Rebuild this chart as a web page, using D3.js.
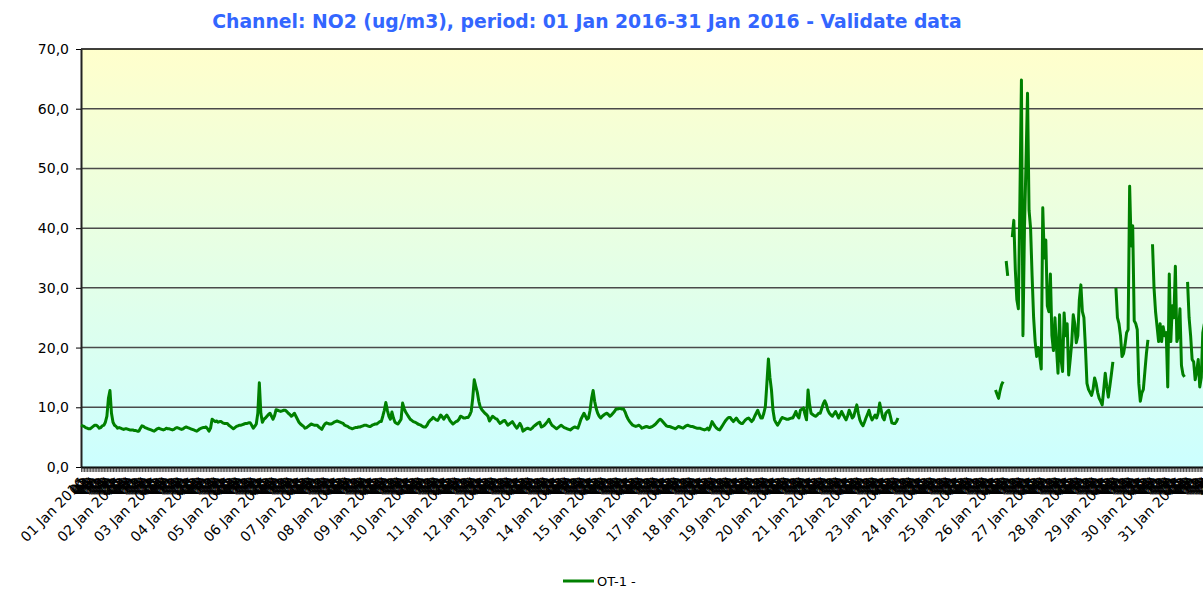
<!DOCTYPE html>
<html>
<head>
<meta charset="utf-8">
<script src="https://cdn.jsdelivr.net/npm/d3@7/dist/d3.min.js"></script>
<style>
    html, body { margin: 0; padding: 0; overflow: hidden; background: #fff; }
    svg { display: block; }
</style>
</head>
<body>
<div class="chart-container"></div>
<script>
(function () {
    'use strict';

    var title = 'Channel: NO2 (ug/m3), period: 01 Jan 2016-31 Jan 2016 - Validate data';
    var seriesName = 'OT-1 -';

    var dayLabels = ['01 Jan 2016', '02 Jan 2016', '03 Jan 2016', '04 Jan 2016', '05 Jan 2016',
        '06 Jan 2016', '07 Jan 2016', '08 Jan 2016', '09 Jan 2016', '10 Jan 2016', '11 Jan 2016',
        '12 Jan 2016', '13 Jan 2016', '14 Jan 2016', '15 Jan 2016', '16 Jan 2016', '17 Jan 2016',
        '18 Jan 2016', '19 Jan 2016', '20 Jan 2016', '21 Jan 2016', '22 Jan 2016', '23 Jan 2016',
        '24 Jan 2016', '25 Jan 2016', '26 Jan 2016', '27 Jan 2016', '28 Jan 2016', '29 Jan 2016',
        '30 Jan 2016', '31 Jan 2016'];

    var hourLabels = ['00', '01', '02', '03', '04', '05', '06', '07', '08', '09', '10', '11',
        '12', '13', '14', '15', '16', '17', '18', '19', '20', '21', '22', '23'];

    var yTicks = [0, 10, 20, 30, 40, 50, 60, 70];

    // hourly NO2 values, one row per day
    var no2Week1 = [
        7.0, 6.9, 6.8, 6.6, 6.5, 6.4, 6.4, 6.6, 6.8, 7.0, 7.0, 6.8, 6.5, 6.6, 6.9, 7.0, 7.5, 8.5, 11.5, 12.8, 9.0, 7.5, 7.0, 6.8,
        6.5, 6.6, 6.5, 6.4, 6.3, 6.4, 6.4, 6.3, 6.2, 6.2, 6.2, 6.1, 6.1, 6.0, 6.0, 6.5, 6.9, 6.8, 6.6, 6.5, 6.4, 6.3, 6.2, 6.1,
        6.0, 6.2, 6.4, 6.5, 6.4, 6.3, 6.2, 6.3, 6.5, 6.4, 6.4, 6.3, 6.2, 6.3, 6.5, 6.6, 6.5, 6.4, 6.3, 6.4, 6.6, 6.7, 6.6, 6.5,
        6.4, 6.3, 6.2, 6.1, 6.0, 6.2, 6.4, 6.5, 6.6, 6.6, 6.7, 6.4, 6.0, 6.5, 8.0, 7.8, 7.6, 7.7, 7.5, 7.6, 7.6, 7.4, 7.3, 7.3,
        7.3, 7.0, 6.8, 6.6, 6.4, 6.6, 6.8, 6.9, 7.0, 7.0, 7.1, 7.2, 7.3, 7.3, 7.4, 7.4, 7.0, 6.5, 6.8, 7.2, 9.0, 14.1, 9.0, 7.5,
        8.0, 8.2, 8.5, 8.8, 9.0, 8.5, 8.0, 8.6, 9.6, 9.5, 9.4, 9.3, 9.4, 9.5, 9.5, 9.3, 9.0, 8.8, 8.5, 8.7, 9.0, 8.5, 8.0, 7.5,
        7.2, 7.0, 6.8, 6.5, 6.6, 6.8, 7.0, 7.2, 7.1, 7.0, 7.0, 7.0, 6.7, 6.5, 6.3, 6.8, 7.2, 7.4, 7.3, 7.2, 7.2, 7.3, 7.5, 7.6
    ];
    var no2Week2 = [
        7.7, 7.6, 7.5, 7.4, 7.3, 7.0, 6.9, 6.8, 6.6, 6.5, 6.4, 6.5, 6.6, 6.6, 6.7, 6.7, 6.8, 6.9, 7.0, 7.0, 6.9, 6.8, 6.8, 7.0,
        7.1, 7.2, 7.2, 7.4, 7.6, 7.6, 8.5, 9.5, 10.8, 9.5, 8.5, 8.0, 9.2, 8.2, 7.5, 7.3, 7.2, 7.6, 8.0, 10.7, 9.8, 9.2, 8.8, 8.4,
        8.0, 7.8, 7.6, 7.5, 7.4, 7.2, 7.1, 7.0, 6.8, 6.7, 6.7, 7.0, 7.5, 7.8, 8.0, 8.3, 8.1, 7.9, 7.8, 8.2, 8.7, 8.4, 8.0, 8.4,
        8.7, 8.3, 7.8, 7.5, 7.2, 7.4, 7.6, 7.7, 8.0, 8.5, 8.4, 8.2, 8.2, 8.3, 8.3, 8.7, 9.3, 11.5, 14.6, 13.5, 12.5, 11.0, 10.0, 9.6,
        9.3, 9.0, 8.8, 8.5, 7.7, 8.1, 8.5, 8.3, 8.1, 8.0, 7.6, 7.3, 7.5, 7.7, 7.8, 7.4, 7.0, 7.2, 7.4, 7.6, 7.2, 6.8, 6.5, 6.9,
        7.3, 6.8, 6.0, 6.2, 6.4, 6.5, 6.4, 6.3, 6.5, 6.8, 7.0, 7.2, 7.4, 7.5, 6.7, 6.8, 7.0, 7.3, 7.6, 8.0, 7.4, 7.0, 6.8, 6.6,
        6.4, 6.6, 6.8, 7.0, 6.8, 6.6, 6.5, 6.4, 6.3, 6.2, 6.4, 6.6, 6.7, 6.6, 6.5, 7.2, 8.0, 8.5, 9.0, 8.5, 8.0, 8.2, 9.5, 11.5
    ];
    var no2Week3 = [
        12.8, 11.0, 9.8, 9.0, 8.5, 8.2, 8.5, 8.7, 8.9, 9.0, 8.8, 8.5, 8.7, 9.0, 9.3, 9.7, 9.7, 9.8, 9.8, 9.7, 9.7, 9.2, 8.5, 8.0,
        7.6, 7.3, 7.0, 6.9, 6.8, 6.9, 7.0, 6.8, 6.5, 6.6, 6.7, 6.8, 6.7, 6.6, 6.7, 6.8, 7.0, 7.2, 7.5, 7.8, 8.0, 7.8, 7.5, 7.2,
        6.9, 6.8, 6.8, 6.7, 6.6, 6.5, 6.4, 6.6, 6.8, 6.7, 6.6, 6.5, 6.7, 6.9, 7.0, 6.9, 6.8, 6.8, 6.7, 6.6, 6.5, 6.5, 6.5, 6.4,
        6.3, 6.2, 6.3, 6.5, 6.2, 6.8, 7.6, 7.2, 6.8, 6.5, 6.3, 6.2, 6.6, 7.0, 7.4, 7.8, 8.1, 8.3, 8.3, 7.9, 7.6, 7.9, 8.2, 7.8,
        7.5, 7.3, 7.3, 7.6, 7.9, 8.1, 8.2, 7.9, 7.6, 7.9, 8.5, 9.0, 9.5, 8.8, 8.2, 8.2, 9.0, 10.1, 14.0, 18.1, 15.0, 12.9, 9.5, 7.9,
        7.4, 7.0, 7.4, 7.9, 8.3, 8.2, 8.1, 8.0, 8.0, 8.1, 8.2, 8.2, 8.7, 9.3, 8.6, 8.2, 9.5, 9.7, 9.9, 8.8, 7.9, 12.9, 10.5, 9.0,
        8.8, 8.6, 8.5, 8.7, 9.0, 9.0, 9.8, 10.6, 11.1, 10.5, 9.5, 9.0, 8.7, 8.5, 8.9, 9.3, 8.8, 8.2, 8.7, 9.3, 8.8, 8.3, 7.9, 8.6
    ];
    var no2Week4 = [
        9.5, 8.9, 8.2, 8.5, 9.5, 10.4, 9.0, 7.9, 7.3, 6.9, 7.5, 8.2, 8.8, 9.5, 8.5, 7.9, 8.3, 8.7, 8.2, 9.0, 10.7, 9.5, 8.3, 7.9,
        9.0, 9.3, 9.5, 8.5, 7.4, 7.3, 7.3, 7.6, 8.2, null, null, null, null, null, null, null, null, null, null, null, null, null, null, null,
        null, null, null, null, null, null, null, null, null, null, null, null, null, null, null, null, null, null, null, null, null, null, null, null,
        null, null, null, null, null, null, null, null, null, null, null, null, null, null, null, null, null, null, null, null, null, null, null, null,
        12.9, 12.2, 11.5, 12.8, 13.8, 14.3, null, 34.5, 32.0, null, null, 38.5, 41.3, 33.0, 28.0, 26.5, 45.0, 64.8, 22.0, 40.0, 51.0, 62.6, 43.0, 40.0,
        32.0, 25.0, 21.0, 18.5, 20.0, 18.5, 16.4, 43.4, 35.0, 38.0, 27.0, 26.0, 32.3, 22.0, 19.5, 25.0, 20.0, 15.7, 25.5, 18.0, 16.0, 25.8, 22.0, 24.0,
        15.4, 18.0, 20.8, 25.5, 24.0, 20.8, 22.0, 28.0, 30.5, 26.0, 25.0, 20.0, 14.0, 13.0, 12.5, 12.0, 13.0, 14.9, 14.0, 12.5, 11.5, 11.0, 10.4, 13.0
    ];
    var no2Week5 = [
        15.7, 13.5, 11.7, 13.5, 15.5, 17.6, null, 30.0, 25.0, 24.0, 22.0, 18.5, 19.0, 20.5, 22.5, 23.0, 47.0, 37.0, 40.4, 24.5, 24.0, 23.0, 14.0, 11.0,
        12.4, 13.0, 16.0, 19.0, 21.3, null, null, 37.3, 30.0, 26.0, 23.5, 21.0, 24.0, 21.0, 23.5, 22.0, 22.5, 13.4, 32.3, 21.0, 27.0, 25.0, 33.6, 21.0,
        22.0, 26.5, 17.0, 15.5, 15.1, null, 31.0, 25.0, 22.0, 18.0, 17.6, 14.6, 16.0, 18.0, 13.4, 15.0, 22.5, 24.0, null, null, null, null, null, null
    ];

    var values = [].concat(no2Week1, no2Week2, no2Week3, no2Week4, no2Week5);
    var hours = d3.range(dayLabels.length * 24);

    var width = 1203, height = 589;
    var plot = { left: 81, top: 49, right: 1215, bottom: 467 };
    var font = 'Verdana, "DejaVu Sans", sans-serif';

    var svg = d3.select('.chart-container')
        .append('svg')
            .attr('width', width)
            .attr('height', height);

    var x = d3.scaleLinear()
        .domain([0, hours.length])
        .range([plot.left, plot.right]);

    var y = d3.scaleLinear()
        .domain([0, 70])
        .range([plot.bottom, plot.top]);

    // background gradient of the plot area
    var grad = svg.append('defs').append('linearGradient')
        .attr('id', 'plotBg')
        .attr('x1', 0).attr('y1', 0)
        .attr('x2', 0).attr('y2', 1);
    grad.append('stop').attr('offset', '0%').attr('stop-color', '#ffffcc');
    grad.append('stop').attr('offset', '100%').attr('stop-color', '#ccffff');

    svg.append('rect')
        .attr('x', plot.left)
        .attr('y', plot.top)
        .attr('width', plot.right - plot.left)
        .attr('height', plot.bottom - plot.top)
        .attr('fill', 'url(#plotBg)');

    // horizontal grid
    svg.append('g')
        .selectAll('line')
        .data(yTicks.slice(1))
        .enter().append('line')
            .attr('x1', plot.left)
            .attr('x2', plot.right)
            .attr('y1', function (d) { return y(d); })
            .attr('y2', function (d) { return y(d); })
            .attr('stroke', function (d) { return d === 70 ? '#000' : '#4a4a4a'; })
            .attr('stroke-width', 1.5);

    // y axis
    var yAxis = svg.append('g')
        .attr('transform', 'translate(' + plot.left + ',0)')
        .call(d3.axisLeft(y)
            .tickValues(yTicks)
            .tickSize(5)
            .tickSizeOuter(0)
            .tickFormat(function (d) { return d.toFixed(1).replace('.', ','); }));
    yAxis.select('.domain').attr('stroke', '#222').attr('stroke-width', 2);
    yAxis.selectAll('.tick line').attr('stroke', '#000');
    yAxis.selectAll('text')
        .attr('x', -12)
        .attr('fill', '#000')
        .style('font-family', font)
        .style('font-size', '14px');

    // x axis, one tick per hour; labels slanted 45 degrees
    var xAxis = svg.append('g')
        .attr('transform', 'translate(0,' + plot.bottom + ')')
        .call(d3.axisBottom(x)
            .tickValues(hours)
            .tickSize(5)
            .tickSizeOuter(0)
            .tickFormat(function (i) {
                return i % 24 === 0 ? dayLabels[i / 24] : hourLabels[i % 24];
            }));
    xAxis.select('.domain').attr('stroke', '#000').attr('stroke-width', 2);
    xAxis.selectAll('.tick line').attr('stroke', '#222').attr('stroke-width', 0.8);
    xAxis.selectAll('.tick text')
        .attr('x', 0)
        .attr('y', 0)
        .attr('dy', '0.35em')
        .attr('text-anchor', 'end')
        .attr('transform', 'translate(1,13) rotate(-45)')
        .attr('fill', '#000')
        .style('font-family', font)
        .style('font-size', '14px');

    // data line
    var line = d3.line()
        .defined(function (d) { return d !== null; })
        .x(function (d, i) { return x(i); })
        .y(function (d) { return y(d); });

    svg.append('path')
        .datum(values)
        .attr('d', line)
        .attr('fill', 'none')
        .attr('stroke', '#008000')
        .attr('stroke-width', 3)
        .attr('stroke-linejoin', 'round');

    // title
    svg.append('text')
        .attr('x', 587)
        .attr('y', 28)
        .attr('text-anchor', 'middle')
        .attr('fill', '#3366ff')
        .style('font-family', font)
        .style('font-weight', 'bold')
        .style('font-size', '18.8px')
        .text(title);

    // legend
    var legend = svg.append('g').attr('transform', 'translate(563,581)');
    legend.append('line')
        .attr('x1', 0).attr('x2', 31)
        .attr('stroke', '#008000')
        .attr('stroke-width', 3);
    legend.append('text')
        .attr('x', 34)
        .attr('dy', '0.35em')
        .attr('fill', '#000')
        .style('font-family', font)
        .style('font-size', '13px')
        .text(seriesName);
})();
</script>
</body>
</html>
